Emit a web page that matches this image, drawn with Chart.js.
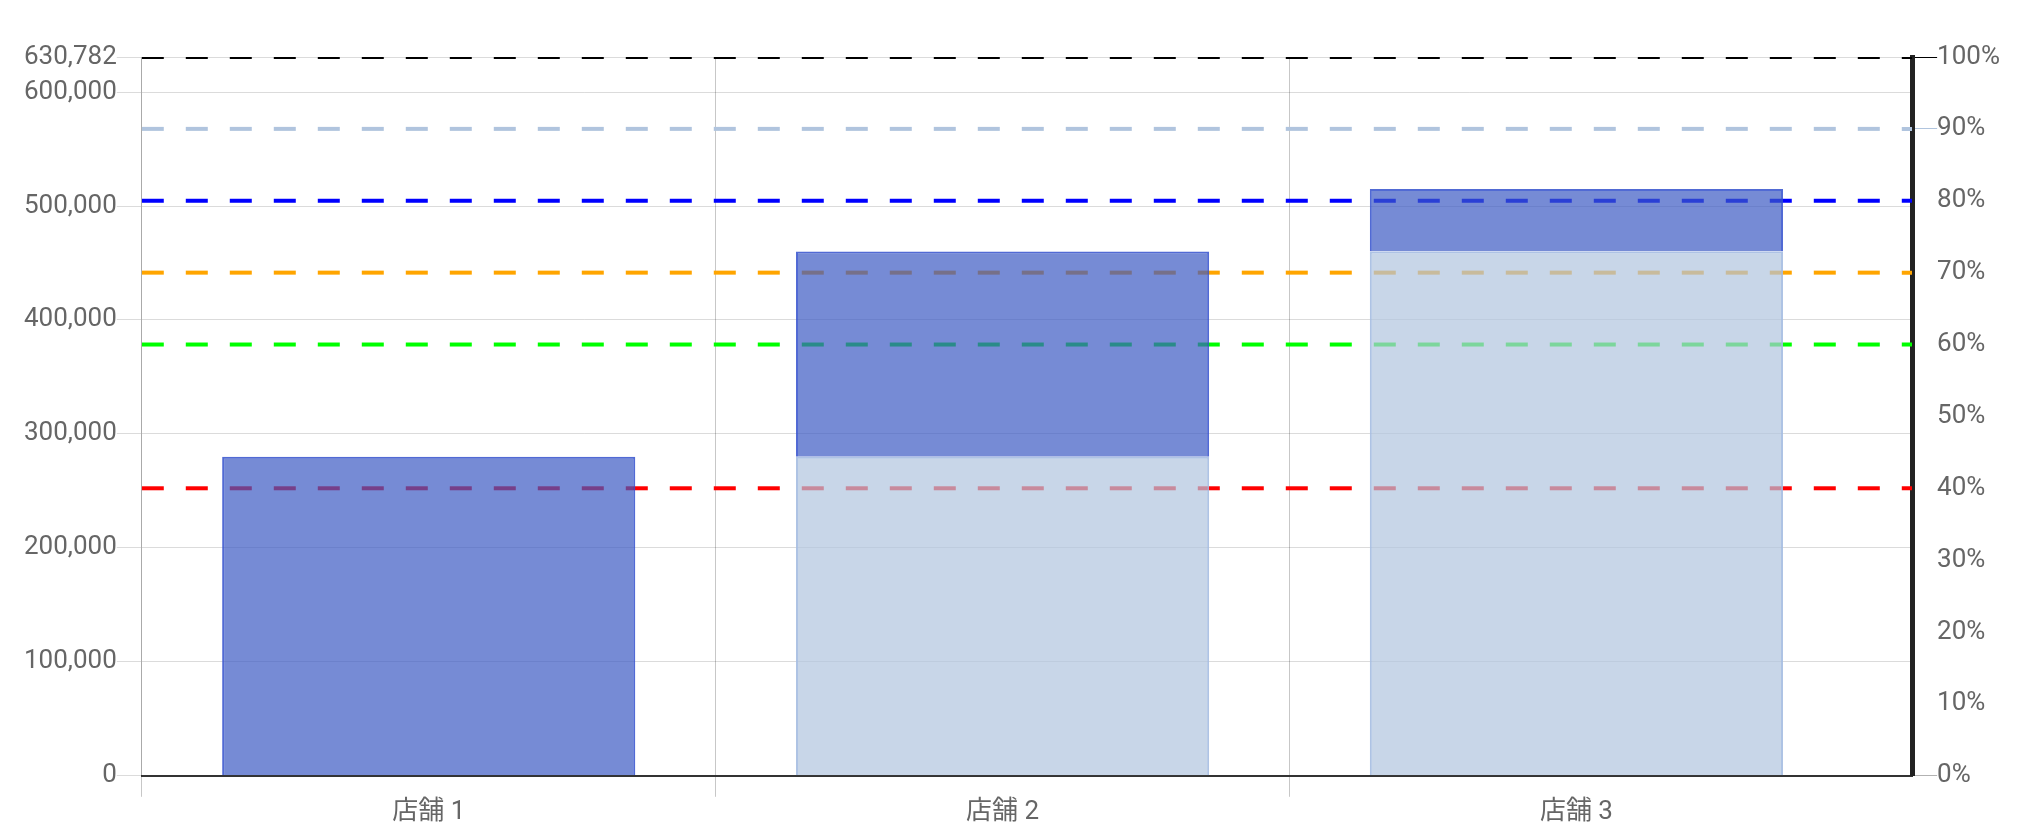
<!DOCTYPE html>
<html>
<head>
<meta charset="utf-8">
<script src="https://cdn.jsdelivr.net/npm/chart.js@4.4.0/dist/chart.umd.min.js"></script>
<style>
    html, body { margin: 0; padding: 0; background: #fff; }
    #wrap { width: 2023px; height: 840px; }
</style>
</head>
<body>
<div id="wrap"><canvas id="storeChart"></canvas></div>
<script>
const storeLabels = ['店舗 1', '店舗 2', '店舗 3'];
const prevTotal = [0, 280000, 460000];
const storeSales = [280000, 180000, 55000];
const targetMax = 630782;
const linePercents = [100, 90, 80, 70, 60, 40];
const lineColors = ['#000000', '#b0c4de', '#0000ff', '#ffa500', '#00ff00', '#ff0000'];
const lineSpan = [0, 1];

// the category axis stops a bit short of the right edge in the original
const xSpanCats = 3.085;

Chart.defaults.font.family = "Roboto, 'Noto Sans CJK JP', sans-serif";
Chart.defaults.font.size = 26;
Chart.defaults.color = '#666';

const lineSets = linePercents.map((p, i) => ({
    type: 'line',
    label: p + '%',
    data: lineSpan.map(x => ({ x: x, y: p })),
    xAxisID: 'x2',
    yAxisID: 'y1',
    borderColor: lineColors[i],
    borderWidth: 4,
    borderDash: [22, 22],
    pointRadius: 0,
    fill: false,
    order: 2
}));

const chrtStore = document.getElementById('storeChart');
new Chart(chrtStore, {
    type: 'bar',
    data: {
        labels: storeLabels,
        datasets: [
            {
                label: 'prev',
                data: prevTotal,
                backgroundColor: 'rgba(176, 196, 222, 0.7)',
                borderColor: 'rgba(165, 188, 225, 0.9)',
                borderWidth: 2,
                grouped: false,
                yAxisID: 'y',
                order: 1
            },
            {
                label: 'sales',
                data: storeSales,
                backgroundColor: 'rgba(60, 90, 195, 0.7)',
                borderColor: 'rgba(50, 80, 205, 0.85)',
                borderWidth: 2,
                grouped: false,
                yAxisID: 'y',
                order: 1
            },
            ...lineSets
        ]
    },
    options: {
        responsive: true,
        maintainAspectRatio: false,
        animation: false,
        layout: {
            padding: { top: 57, bottom: 12, left: 24, right: 23 }
        },
        plugins: {
            legend: { display: false },
            tooltip: { enabled: false }
        },
        scales: {
            x: {
                type: 'category',
                stacked: true,
                offset: true,
                grid: {
                    offset: true,
                    tickLength: 21,
                    color: (ctx) => ctx.type === 'tick' ? 'rgba(0, 0, 0, 0.22)' : 'rgba(0, 0, 0, 0)'
                },
                border: { color: '#333', width: 2 },
                ticks: { padding: 0 },
                afterBuildTicks: (scale) => { scale._valueRange = xSpanCats; }
            },
            x2: {
                type: 'linear',
                display: false,
                offset: false,
                min: 0,
                max: 1
            },
            y: {
                position: 'left',
                stacked: true,
                min: 0,
                max: targetMax,
                ticks: { padding: 0 },
                grid: { tickLength: 25, color: 'rgba(0, 0, 0, 0.14)' },
                border: { color: 'rgba(0, 0, 0, 0.15)' }
            },
            y1: {
                position: 'right',
                min: 0,
                max: 100,
                ticks: {
                    padding: 0,
                    callback: (v) => v + '%'
                },
                grid: {
                    drawOnChartArea: false,
                    tickLength: 25,
                    color: (ctx) => {
                        if (!ctx.tick) return 'rgba(0, 0, 0, 0)';
                        if (ctx.tick.value === 0) return 'rgba(0, 0, 0, 0.3)';
                        if (ctx.tick.value === 90) return '#b0c4de';
                        if (ctx.tick.value === 100) return '#000000';
                        return 'rgba(0, 0, 0, 0)';
                    }
                },
                border: { color: '#222', width: 5 }
            }
        }
    }
});
</script>
</body>
</html>
